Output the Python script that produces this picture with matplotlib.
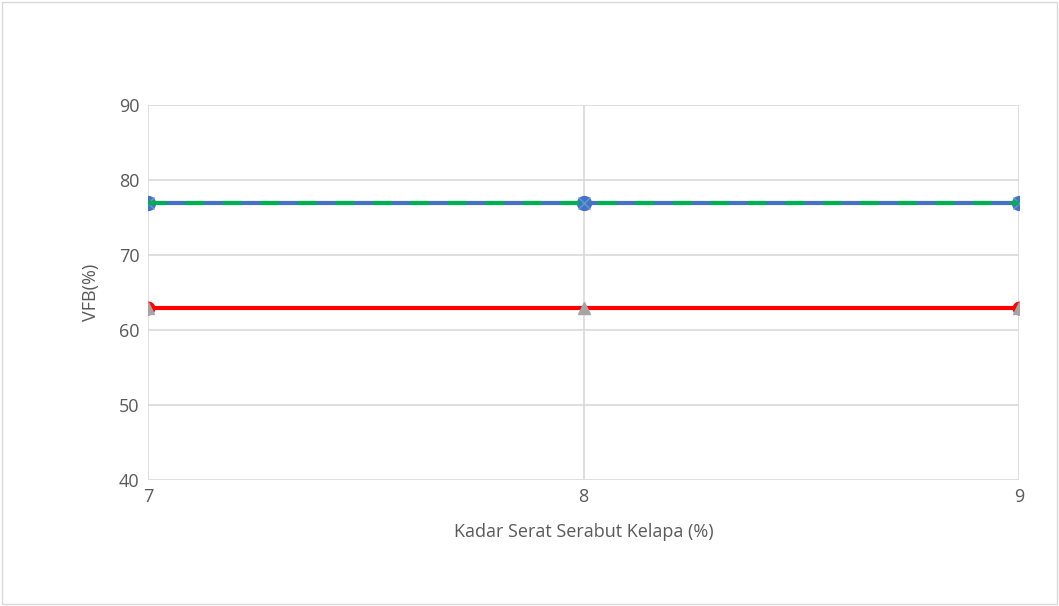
import matplotlib.pyplot as plt

plt.rcParams['font.family'] = ['Open Sans', 'DejaVu Sans']

kadar = [7, 8, 9]
vfb_min = [63, 63, 63]
vfb_bawah = [63, 63, 63]
vfb_a = [77, 77, 77]
vfb_b = [77, 77, 77]
vfb_c = [77, 77, 77]

fig = plt.figure(figsize=(10.59, 6.06), dpi=100)
ax = fig.add_axes([0.1398, 0.2079, 0.8224, 0.6188])

# border around the whole chart
fig.patches.append(plt.Rectangle((0.0015, 0.0025), 0.997, 0.995, transform=fig.transFigure,
                                 fill=False, edgecolor='#d9d9d9', linewidth=1))

ax.plot(kadar, vfb_min, color='#ff0000', linewidth=3, marker='o', markersize=9,
        markevery=[0, 2], zorder=3)
ax.plot(kadar, vfb_bawah, color='#a5a5a5', linewidth=0, marker='^', markersize=9, zorder=4)
ax.plot(kadar, vfb_a, color='#4472c4', linewidth=3, marker='o', markersize=10, zorder=3)
ax.plot(kadar, vfb_b, color='#5b9bd5', linewidth=0, marker='x', markersize=9,
        markeredgewidth=1, zorder=4)
ax.plot(kadar, vfb_c, color='#00b050', linewidth=3, linestyle=(0, (4.5, 4.5)), zorder=5)

ax.set_xlim(7, 9)
ax.set_ylim(40, 90)
ax.set_xticks(kadar)
ax.set_yticks(range(40, 91, 10))
ax.grid(True, color='#d9d9d9', linewidth=1.2)
ax.set_axisbelow(True)
for s in ax.spines.values():
    s.set_visible(False)
ax.tick_params(length=0, labelsize=13, labelcolor='#595959', pad=6)

ax.set_xlabel('Kadar Serat Serabut Kelapa (%)', fontsize=13, color='#595959', labelpad=12)
ax.set_ylabel('VFB(%)', fontsize=13, color='#595959', labelpad=14)

fig.savefig('out.png', dpi=100)
